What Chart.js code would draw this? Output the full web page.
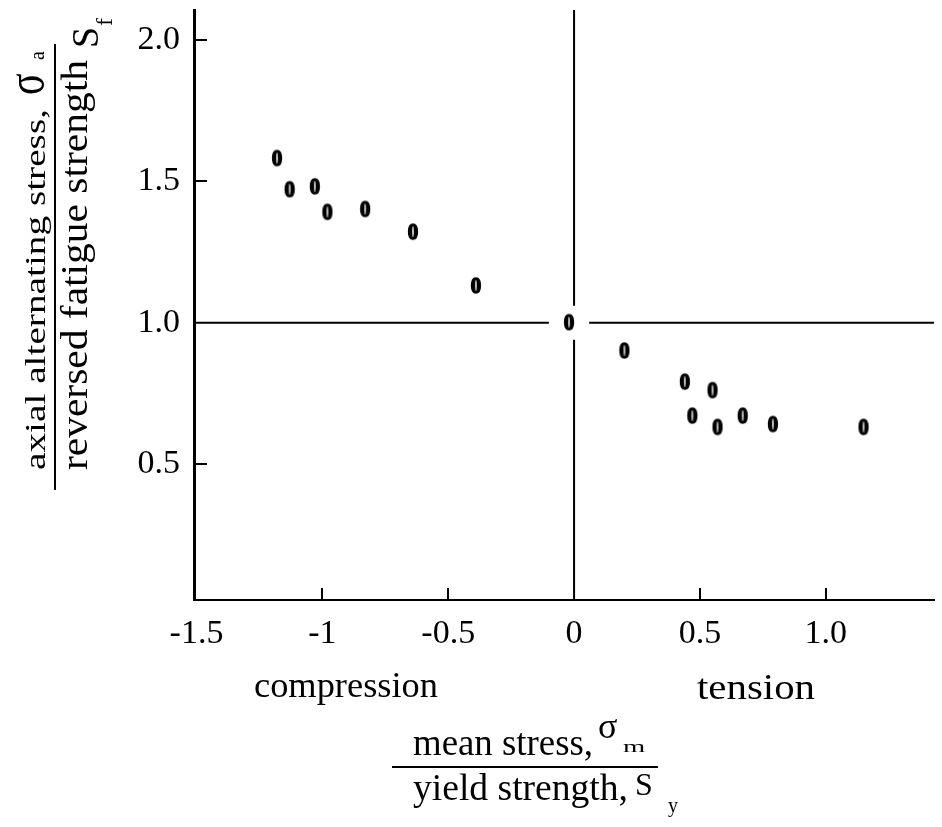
<!DOCTYPE html>
<html><head><meta charset="utf-8">
<script src="https://cdn.jsdelivr.net/npm/chart.js@4/dist/chart.umd.min.js"></script>
<style>
html,body{margin:0;padding:0;background:#fff;}
#wrap{position:relative;width:942px;height:827px;overflow:hidden;}
#c{position:absolute;left:0;top:0;}
#ov{position:absolute;left:0;top:0;}
</style></head><body>
<div id="wrap">
<canvas id="c" width="942" height="827"></canvas>
<svg id="ov" width="942" height="827" xmlns="http://www.w3.org/2000/svg" font-family="'Liberation Serif', serif" fill="#000">
  <text transform="translate(45,470) rotate(-90)" font-size="30" textLength="361" lengthAdjust="spacingAndGlyphs">axial alternating stress,</text>
  <text transform="translate(43,95) rotate(-90) scale(1,1.3)" font-size="40">σ</text>
  <text transform="translate(44,60) rotate(-90)" font-size="20">a</text>
  <line x1="55" y1="44" x2="55" y2="490" stroke="#000" stroke-width="2"/>
  <text transform="translate(87,470) rotate(-90)" font-size="38" textLength="410" lengthAdjust="spacingAndGlyphs">reversed fatigue strength</text>
  <text transform="translate(98,48) rotate(-90)" font-size="38">S</text>
  <text transform="translate(112,26) rotate(-90)" font-size="24">f</text>

  <text x="254" y="697" font-size="36" textLength="184" lengthAdjust="spacingAndGlyphs">compression</text>
  <text x="697" y="699" font-size="36" textLength="118" lengthAdjust="spacingAndGlyphs">tension</text>

  <text x="413" y="755" font-size="38" textLength="180" lengthAdjust="spacingAndGlyphs">mean stress,</text>
  <text x="598" y="738" font-size="36">σ</text>
  <text transform="translate(623,752) scale(1.3,0.8)" font-size="22">m</text>
  <line x1="392" y1="767" x2="658" y2="767" stroke="#000" stroke-width="2"/>
  <text x="413" y="800" font-size="38" textLength="215" lengthAdjust="spacingAndGlyphs">yield strength,</text>
  <text x="635" y="795" font-size="32">S</text>
  <text x="668" y="812" font-size="20">y</text>
</svg>
</div>
<script>
// ---- data ----
const meanStressRatio = [-1.18,-1.13,-1.03,-0.98,-0.83,-0.64,-0.39,-0.02,0.20,0.44,0.55,0.47,0.57,0.67,0.79,1.15];
const alternatingStressRatio = [1.58,1.47,1.48,1.39,1.40,1.32,1.13,1.00,0.90,0.79,0.76,0.67,0.63,0.67,0.64,0.63];

const xTickValues = [-1.5,-1,-0.5,0,0.5,1.0];
const xTickLabels = ['-1.5','-1','-0.5','0','0.5','1.0'];
const yTickValues = [0.5,1.0,1.5,2.0];
const yTickLabels = ['0.5','1.0','1.5','2.0'];
const xTickMarks = [-1,-0.5,0.5,1.0];
const yTickMarks = [0.5,1.5,2.0];

// reference lines (y = 1 and x = 0), broken around the point at the origin
const hLineY = 1.0;
const hLineSegments = [[-1.51,-0.1],[0.06,1.43]];
const vLineX = 0;
const vLineSegments = [[2.105,1.06],[0.94,0.02]];

const xMin = -1.51, xMax = 1.43, yMin = 0.02, yMax = 2.105;

// bold "0" glyph used as the point marker
const zero = document.createElement('canvas');
zero.width = 14; zero.height = 20;
(function(){
  const g = zero.getContext('2d');
  g.fillStyle = '#000';
  g.strokeStyle = '#000';
  g.lineWidth = 1.4;
  g.font = 'bold 21px "Liberation Serif"';
  g.textAlign = 'center';
  g.textBaseline = 'middle';
  g.translate(7, 10);
  g.scale(1.0, 1.1);
  g.fillText('0', 0, 1);
  g.strokeText('0', 0, 1);
})();

const points = meanStressRatio.map((x,i)=>({x:x, y:alternatingStressRatio[i]}));

const lineDatasets = [];
hLineSegments.forEach(s=>lineDatasets.push({
  data:[{x:s[0],y:hLineY},{x:s[1],y:hLineY}], showLine:true, pointRadius:0,
  borderColor:'#000', borderWidth:2, fill:false
}));
vLineSegments.forEach(s=>lineDatasets.push({
  data:[{x:vLineX,y:s[0]},{x:vLineX,y:s[1]}], showLine:true, pointRadius:0,
  borderColor:'#000', borderWidth:2, fill:false
}));

const inwardTicks = {
  id:'inwardTicks',
  afterDraw(chart){
    const {ctx, chartArea:a} = chart;
    const xs = chart.scales.x, ys = chart.scales.y;
    ctx.save();
    ctx.strokeStyle = '#000';
    ctx.lineWidth = 2;
    xTickMarks.forEach(v=>{
      const px = Math.round(xs.getPixelForValue(v));
      ctx.beginPath(); ctx.moveTo(px, a.bottom); ctx.lineTo(px, a.bottom-12); ctx.stroke();
    });
    yTickMarks.forEach(v=>{
      const py = Math.round(ys.getPixelForValue(v));
      ctx.beginPath(); ctx.moveTo(a.left, py); ctx.lineTo(a.left+13, py); ctx.stroke();
    });
    ctx.restore();
  }
};

const tickFont = {family:'"Liberation Serif", serif', size:34};

new Chart(document.getElementById('c'), {
  type:'scatter',
  data:{datasets:[
    ...lineDatasets,
    {data:points, pointStyle:zero, pointRadius:7, showLine:false}
  ]},
  options:{
    responsive:false, animation:false, devicePixelRatio:1,
    layout:{padding:{left:100,right:0,top:10,bottom:167}},
    plugins:{legend:{display:false}, tooltip:{enabled:false}},
    scales:{
      x:{
        type:'linear', min:xMin, max:xMax,
        grid:{display:false, drawTicks:false},
        border:{display:true, color:'#000', width:2},
        afterBuildTicks:s=>{ s.ticks = xTickValues.map(v=>({value:v})); },
        afterFit:s=>{ s.height = 60; s.paddingLeft = 0; s.paddingRight = 0; },
        ticks:{autoSkip:false, maxRotation:0, minRotation:0, padding:14, color:'#000', font:tickFont,
          callback:(v,i)=>xTickLabels[i]}
      },
      y:{
        type:'linear', min:yMin, max:yMax,
        grid:{display:false, drawTicks:false},
        border:{display:true, color:'#000', width:3},
        afterBuildTicks:s=>{ s.ticks = yTickValues.map(v=>({value:v})); },
        afterFit:s=>{ s.width = 94; s.paddingTop = 0; s.paddingBottom = 0; },
        ticks:{autoSkip:false, padding:14, color:'#000', font:tickFont,
          callback:(v,i)=>yTickLabels[i]}
      }
    }
  },
  plugins:[inwardTicks]
});
</script>
</body></html>
